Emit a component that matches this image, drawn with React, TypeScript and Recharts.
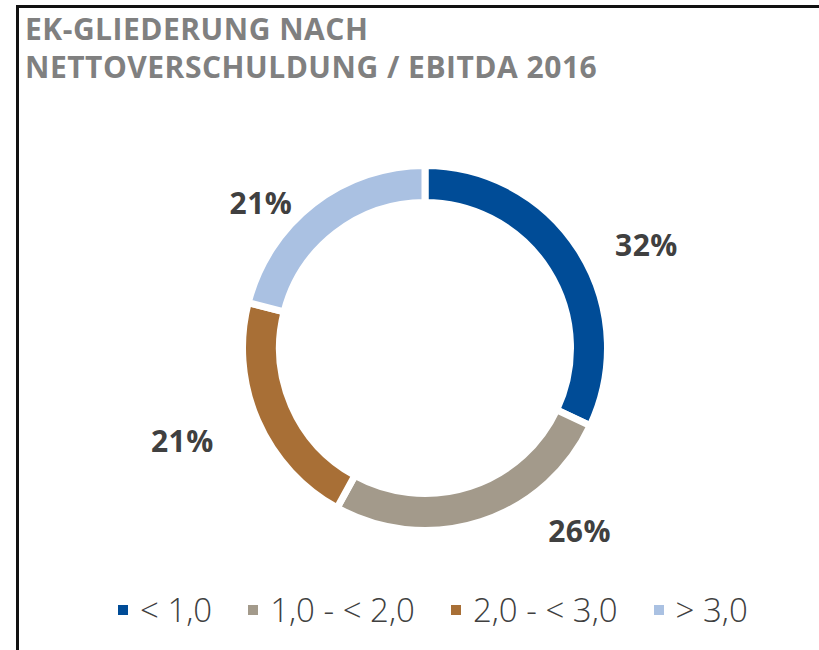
import React from 'react';
import { PieChart, Pie, Cell, Legend } from 'recharts';

const titleLines = ['EK-GLIEDERUNG NACH', 'NETTOVERSCHULDUNG / EBITDA 2016'];
const categories = ['< 1,0', '1,0 - < 2,0', '2,0 - < 3,0', '> 3,0'];
const shares = [32, 26, 21, 21];
const colors = ['#004C97', '#A39A8B', '#A86F36', '#AAC1E2'];

const data = categories.map((name, i) => ({ name, value: shares[i] }));

const RAD = Math.PI / 180;
const FONT = "'Open Sans', 'Noto Sans', sans-serif";

// excel placed the labels "best fit", so push them a bit off the radial line
const labelNudge = [
  [23, 22],
  [82, -41],
  [-27, -1],
  [-20, 40],
];

const renderLabel = (props: any) => {
  const { cx, cy, midAngle, index, value } = props;
  const r = 235;
  const x = cx + r * Math.cos(-midAngle * RAD) + labelNudge[index][0];
  const y = cy + r * Math.sin(-midAngle * RAD) + labelNudge[index][1];
  return (
    <text
      x={x}
      y={y}
      textAnchor="middle"
      dominantBaseline="central"
      fill="#404040"
      fontSize={30}
      fontWeight={700}
      letterSpacing={0.5}
      fontFamily={FONT}
    >
      {value}%
    </text>
  );
};

const renderLegend = () => (
  <div style={{ display: 'flex', alignItems: 'center', fontFamily: FONT }}>
    {data.map((d, i) => (
      <div key={d.name} style={{ display: 'flex', alignItems: 'center', marginRight: 36 }}>
        <span style={{ width: 10, height: 10, background: colors[i], marginRight: 12, display: 'inline-block' }} />
        <span style={{ fontSize: 33, fontWeight: 300, color: '#404040', lineHeight: '38px', whiteSpace: 'pre' }}>{d.name}</span>
      </div>
    ))}
  </div>
);

export default function App() {
  return (
    <div style={{ position: 'absolute', left: 0, top: 0, width: 819, height: 650, overflow: 'hidden', background: '#fff' }}>
      <div
        style={{
          position: 'absolute',
          left: 16,
          top: 5,
          width: 840,
          height: 700,
          borderTop: '3px solid #111',
          borderLeft: '3px solid #111',
        }}
      />
      <div
        style={{
          position: 'absolute',
          left: 25,
          top: 10,
          fontFamily: FONT,
          fontWeight: 700,
          fontSize: 30,
          letterSpacing: 0.5,
          lineHeight: '38px',
          color: '#808080',
          whiteSpace: 'nowrap',
        }}
      >
        {titleLines.map((t) => (
          <div key={t}>{t}</div>
        ))}
      </div>
      <div style={{ position: 'absolute', left: 0, top: 0 }}>
        <PieChart width={819} height={650} margin={{ top: 0, right: 0, bottom: 0, left: 0 }}>
          <Pie
            data={data}
            dataKey="value"
            nameKey="name"
            cx={425}
            cy={348}
            outerRadius={182.5}
            innerRadius={145.5}
            startAngle={90}
            endAngle={-270}
            stroke="#fff"
            strokeWidth={7}
            label={renderLabel}
            labelLine={false}
            isAnimationActive={false}
          >
            {data.map((d, i) => (
              <Cell key={d.name} fill={colors[i]} />
            ))}
          </Pie>
          <Legend content={renderLegend} wrapperStyle={{ left: 118, top: 591, width: 700 }} />
        </PieChart>
      </div>
    </div>
  );
}
